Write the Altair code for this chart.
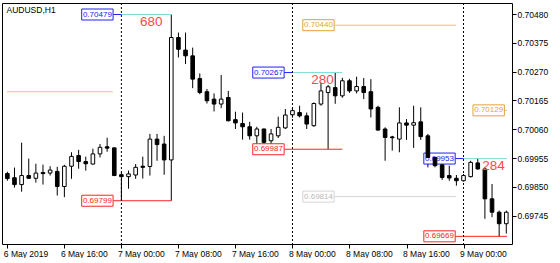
import altair as alt
import pandas as pd

# ---------------- data (prices in points, 1 point = 0.00001) ----------------
# bar 0 = 6 May 2019 08:00, one bar per hour (H1)
open_pts = [69898, 69883, 69858, 69891, 69881, 69902, 69900, 69906, 69851, 69925,
            69964, 69942, 69933, 69970, 69996, 69992, 69894, 69887, 69893, 69925,
            69924, 70024, 70006, 69948, 70395, 70349, 70328, 70245, 70197, 70170,
            70152, 70176, 70095, 70081, 70069, 70036, 70061, 70018, 70036, 70065,
            70113, 70121, 70109, 70073, 70152, 70194, 70212, 70182, 70237, 70200,
            70216, 70197, 70140, 70061, 70032, 70024, 70083, 70075, 70087, 70036,
            69957, 69930, 69891, 69881, 69872, 69887, 69937, 69915, 69806, 69757,
            69715]
high_pts = [69905, 69920, 70011, 69953, 69934, 69931, 69925, 69923, 69930, 69976,
            69985, 69960, 69989, 70006, 70029, 69993, 69902, 69909, 69933, 69960,
            70043, 70043, 70036, 70479, 70413, 70413, 70358, 70264, 70207, 70191,
            70258, 70200, 70124, 70121, 70087, 70069, 70062, 70061, 70106, 70134,
            70139, 70146, 70121, 70158, 70231, 70222, 70267, 70248, 70244, 70252,
            70247, 70243, 70146, 70067, 70036, 70140, 70097, 70146, 70140, 70043,
            69970, 69945, 69927, 69893, 69897, 69945, 69953, 69921, 69860, 69763,
            69763]
low_pts = [69872, 69847, 69832, 69880, 69865, 69858, 69891, 69818, 69812, 69879,
           69916, 69909, 69931, 69957, 69978, 69889, 69801, 69843, 69879, 69880,
           69891, 69945, 69894, 69799, 70322, 70298, 70210, 70188, 70154, 70125,
           70137, 70089, 70061, 70022, 70022, 69994, 69994, 69989, 70028, 70061,
           70102, 70103, 70061, 70069, 70146, 69987, 70153, 70175, 70193, 70191,
           70170, 70103, 70055, 69945, 69982, 69976, 70021, 69992, 70021, 69921,
           69921, 69875, 69872, 69854, 69869, 69884, 69912, 69733, 69739, 69669,
           69679]
close_pts = [69880, 69858, 69891, 69881, 69900, 69898, 69911, 69851, 69925, 69961,
             69942, 69934, 69970, 69994, 69991, 69891, 69887, 69897, 69921, 69921,
             70024, 70004, 69948, 70395, 70352, 70328, 70243, 70194, 70164, 70152,
             70170, 70091, 70083, 70069, 70036, 70061, 70012, 70043, 70067, 70112,
             70128, 70109, 70079, 70154, 70200, 70215, 70182, 70237, 70200, 70216,
             70194, 70134, 70057, 70030, 70029, 70083, 70075, 70084, 70033, 69957,
             69927, 69884, 69882, 69872, 69891, 69939, 69915, 69806, 69757, 69715,
             69757]

x_tick_values = [0, 8, 16, 24, 32, 40, 48, 56, 64]
x_tick_labels = ["6 May 2019", "6 May 16:00", "7 May 00:00", "7 May 08:00",
                 "7 May 16:00", "8 May 00:00", "8 May 08:00", "8 May 16:00",
                 "9 May 00:00"]
y_tick_values = [0.69745, 0.69850, 0.69955, 0.70060, 0.70165, 0.70270, 0.70375, 0.70480]

# Asian-session range boxes (00:00-07:00)
session_start = [16, 40, 64]
session_end = [23, 47, 70.1]
session_high = [0.70479, 0.70267, 0.69953]
session_low = [0.69799, 0.69987, 0.69669]
session_range = ["680", "280", "284"]

# projected target levels
target_price = [0.70197, 0.70440, 0.69814, 0.70129]
target_kind = ["gold", "gold", "gray", "gold"]
target_line_start = [-0.05, 45.85, 45.85, 69.73]
target_line_end = [14.8, 62.95, 62.95, 70.1]
target_has_box = [False, True, True, True]

# ---------------- layout helpers ----------------
X_DOMAIN = [-0.05, 70.1]
Y_DOMAIN = [0.69641, 0.70521]
W, H = 510, 241
PX_PER_BAR = W / (X_DOMAIN[1] - X_DOMAIN[0])
PX_PER_PRICE = H / (Y_DOMAIN[1] - Y_DOMAIN[0])
FONT = "Liberation Sans"

BLUE = "#2020ff"
CYAN = "#80ddd6"
RED = "#ff2424"
RANGE_RED = "#ff4848"
GOLD_TXT = "#e0a43a"
GOLD_LINE = "#ecc270"
GRAY_TXT = "#b8b8b8"
GRAY_LINE = "#d4d4d4"

candles = pd.DataFrame({
    "i": list(range(len(open_pts))),
    "open": [v / 1e5 for v in open_pts],
    "high": [v / 1e5 for v in high_pts],
    "low": [v / 1e5 for v in low_pts],
    "close": [v / 1e5 for v in close_pts],
})
candles["dir"] = ["up" if c >= o else "down" for o, c in zip(open_pts, close_pts)]

box_w = 32 / PX_PER_BAR
box_gap = 8.5 / PX_PER_BAR
box_half_h = 5.5 / PX_PER_PRICE

sess = pd.DataFrame({
    "start": session_start, "end": session_end,
    "high": session_high, "low": session_low, "rng": session_range,
})
sess["box_r"] = sess["start"] - box_gap
sess["box_l"] = sess["box_r"] - box_w
sess["box_c"] = (sess["box_l"] + sess["box_r"]) / 2
sess["high_hi"] = sess["high"] + box_half_h
sess["high_lo"] = sess["high"] - box_half_h
sess["low_hi"] = sess["low"] + box_half_h
sess["low_lo"] = sess["low"] - box_half_h
sess["high_lbl"] = [f"{v:.5f}" for v in session_high]
sess["low_lbl"] = [f"{v:.5f}" for v in session_low]
sess["txt_x"] = sess["start"] + 4.2

tgt = pd.DataFrame({
    "price": target_price, "kind": target_kind,
    "x0": target_line_start, "x1": target_line_end, "box": target_has_box,
})
tgt["box_l"] = tgt["x0"] - box_w
tgt["box_c"] = tgt["x0"] - box_w / 2
tgt["p_hi"] = tgt["price"] + box_half_h
tgt["p_lo"] = tgt["price"] - box_half_h
tgt["lbl"] = [f"{v:.5f}" for v in target_price]
tgt_box = tgt[tgt["box"]]

xs = alt.Scale(domain=X_DOMAIN, nice=False, zero=False)
ys = alt.Scale(domain=Y_DOMAIN, nice=False, zero=False)

label_array = "[" + ",".join(f"'{t}'" for t in x_tick_labels) + "]"
x_axis = alt.Axis(values=x_tick_values, labelExpr=f"{label_array}[round(datum.value/8)]",
                  title=None, grid=False, domain=False, tickSize=4, tickColor="black",
                  labelAlign="left", labelBaseline="top", labelPadding=1, labelOffset=-4,
                  labelFlush=False, labelOverlap=False, labelFont=FONT,
                  labelFontSize=8.5, labelColor="black")
y_axis = alt.Axis(values=y_tick_values, format=".5f", orient="right", title=None,
                  grid=False, domain=False, tickSize=4, tickColor="black",
                  labelPadding=1, labelFlush=False, labelOverlap=False,
                  labelFont=FONT, labelFontSize=8.5, labelColor="black")


def X(f):
    return alt.X(f, scale=xs, axis=x_axis)


def Y(f):
    return alt.Y(f, scale=ys, axis=y_axis)


# target lines and boxes
tgt_lines = alt.Chart(tgt).mark_rule(strokeWidth=1, clip=True).encode(
    x=X("x0:Q"), x2="x1:Q", y=Y("price:Q"),
    color=alt.Color("kind:N", scale=alt.Scale(domain=["gold", "gray"], range=[GOLD_LINE, GRAY_LINE]), legend=None))
tgt_boxes = alt.Chart(tgt_box).mark_rect(fill="white", strokeWidth=1).encode(
    x=X("box_l:Q"), x2="x0:Q", y=Y("p_lo:Q"), y2="p_hi:Q",
    stroke=alt.Stroke("kind:N", scale=alt.Scale(domain=["gold", "gray"], range=[GOLD_TXT, GRAY_LINE]), legend=None))
tgt_text = alt.Chart(tgt_box).mark_text(font=FONT, fontSize=8, align="center", baseline="middle").encode(
    x=X("box_c:Q"), y=Y("price:Q"), text="lbl:N",
    color=alt.Color("kind:N", scale=alt.Scale(domain=["gold", "gray"], range=[GOLD_TXT, GRAY_TXT]), legend=None))

# session range lines
cyan_line = alt.Chart(sess).mark_rule(color=CYAN, strokeWidth=1, clip=True).encode(
    x=X("start:Q"), x2="end:Q", y=Y("high:Q"))
blue_conn = alt.Chart(sess).mark_rule(color=BLUE, strokeWidth=1).encode(
    x=X("box_r:Q"), x2="start:Q", y=Y("high:Q"))
red_line = alt.Chart(sess).mark_rule(color=RED, strokeWidth=1, clip=True).encode(
    x=X("box_r:Q"), x2="end:Q", y=Y("low:Q"))
blue_box = alt.Chart(sess).mark_rect(fill="white", stroke=BLUE, strokeWidth=1).encode(
    x=X("box_l:Q"), x2="box_r:Q", y=Y("high_lo:Q"), y2="high_hi:Q")
blue_txt = alt.Chart(sess).mark_text(font=FONT, fontSize=8, color=BLUE).encode(
    x=X("box_c:Q"), y=Y("high:Q"), text="high_lbl:N")
red_box = alt.Chart(sess).mark_rect(fill="white", stroke=RED, strokeWidth=1).encode(
    x=X("box_l:Q"), x2="box_r:Q", y=Y("low_lo:Q"), y2="low_hi:Q")
red_txt = alt.Chart(sess).mark_text(font=FONT, fontSize=8, color=RED).encode(
    x=X("box_c:Q"), y=Y("low:Q"), text="low_lbl:N")

# day separators
separators = alt.Chart(sess).mark_rule(color="black", strokeWidth=1, strokeDash=[2, 2]).encode(
    x=X("start:Q"))

# candles
wicks = alt.Chart(candles).mark_rule(color="black", strokeWidth=1, clip=True).encode(
    x=X("i:Q"), y=Y("low:Q"), y2="high:Q")
bodies = alt.Chart(candles).mark_bar(size=3.6, stroke="black", strokeWidth=1, clip=True).encode(
    x=X("i:Q"), y=Y("open:Q"), y2="close:Q",
    fill=alt.Fill("dir:N", scale=alt.Scale(domain=["up", "down"], range=["white", "black"]), legend=None))

range_txt = alt.Chart(sess).mark_text(font="Liberation Sans Narrow, Liberation Sans", fontSize=13.5,
                                      color=RANGE_RED, dy=7, align="center", baseline="middle").encode(
    x=X("txt_x:Q"), y=Y("high:Q"), text="rng:N")

title_txt = alt.Chart(pd.DataFrame({"t": ["AUDUSD,H1"]})).mark_text(
    font=FONT, fontSize=8.5, color="black", align="left", baseline="middle").encode(
    x=alt.value(4.5), y=alt.value(6.5), text="t:N")

chart = alt.layer(
    wicks, tgt_lines, tgt_boxes, tgt_text,
    cyan_line, blue_conn, red_line, blue_box, blue_txt, red_box, red_txt,
    separators, bodies, range_txt, title_txt,
).resolve_scale(color="independent", stroke="independent").properties(
    width=W, height=H,
    padding={"left": 2, "top": 2, "right": 2, "bottom": 0},
    background="white",
).configure_view(stroke="black", strokeWidth=1)

chart.save("out.html", embed_options={"renderer": "svg", "actions": False})
